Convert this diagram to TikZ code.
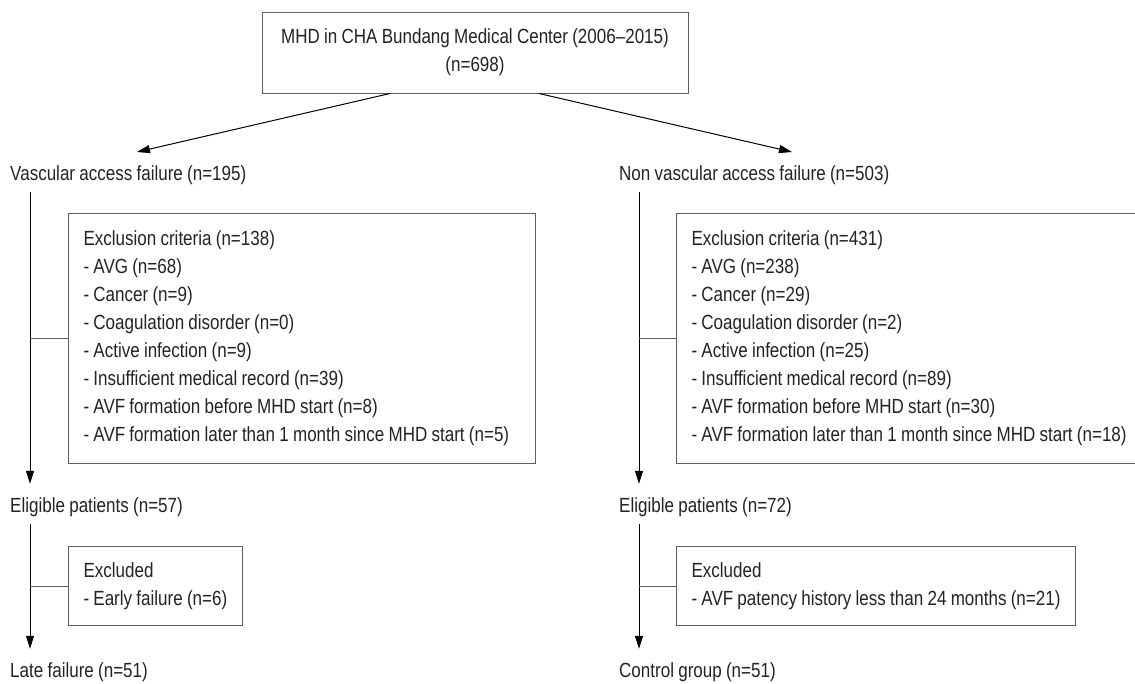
\documentclass[tikz,border=0pt]{standalone}
\usepackage{fontspec}
\setmainfont{Liberation Sans}[FakeStretch=0.83, WordSpace=0.9]
\usepackage{tikz}
\usetikzlibrary{calc, positioning, arrows.meta}
\usepackage{xcolor}
\definecolor{boxLine}{RGB}{95, 95, 95}
\definecolor{txtGray}{RGB}{35, 35, 35}

\begin{document}
\begin{tikzpicture}[x=1pt, y=-1pt, >={Triangle[length=13pt, width=8pt]},
  font=\fontsize{20.5}{28}\selectfont, text=txtGray,
  stage/.style={anchor=west, inner xsep=0pt, inner ysep=8pt,
                text height=14pt, text depth=4pt},
  critbox/.style={draw=boxLine, line width=1pt, anchor=north west,
                  text width=437pt, inner xsep=15pt, inner ysep=0pt,
                  minimum height=250pt, align=flush left},
  exbox/.style={draw=boxLine, line width=1pt, anchor=north west,
                inner xsep=15pt, inner ysep=0pt, minimum height=79pt, align=left},
  flow/.style={->, line width=1pt},
  branch/.style={draw=boxLine, line width=1pt}]
  \useasboundingbox (0,0) rectangle (1135,683);
  \clip (0,0) rectangle (1135,683);

  % Source population
  \node[draw=boxLine, line width=1pt, minimum width=426pt, minimum height=81pt,
        align=center] (mhd) at (475, 52.5)
        {MHD in CHA Bundang Medical Center (2006--2015)\\(n=698)};

  % First split
  \node[stage] (vaf)  at (10, 175)  {Vascular access failure (n=195)};
  \node[stage] (nvaf) at (619, 175) {Non vascular access failure (n=503)};
  \coordinate (vafTip)  at (137, 152);
  \coordinate (nvafTip) at (792, 152);
  \draw[flow] ([xshift=-85pt]mhd.south) -- (vafTip);
  \draw[flow] ([xshift=64pt]mhd.south) -- (nvafTip);

  % Exclusion criteria
  \node[critbox] (critA) at (68, 213)
        {Exclusion criteria (n=138)\\
         - AVG (n=68)\\
         - Cancer (n=9)\\
         - Coagulation disorder (n=0)\\
         - Active infection (n=9)\\
         - Insufficient medical record (n=39)\\
         - AVF formation before MHD start (n=8)\\
         - AVF formation later than 1 month since MHD start (n=5)};
  \node[critbox, text width=455pt] (critB) at (676, 213)
        {Exclusion criteria (n=431)\\
         - AVG (n=238)\\
         - Cancer (n=29)\\
         - Coagulation disorder (n=2)\\
         - Active infection (n=25)\\
         - Insufficient medical record (n=89)\\
         - AVF formation before MHD start (n=30)\\
         - AVF formation later than 1 month since MHD start (n=18)};

  % Eligible patients
  \node[stage] (eligA) at (10, 507)  {Eligible patients (n=57)};
  \node[stage] (eligB) at (619, 507) {Eligible patients (n=72)};

  % Second exclusion
  \node[exbox] (exA) at (68, 546)
        {Excluded\\- Early failure (n=6)};
  \node[exbox] (exB) at (676, 546)
        {Excluded\\- AVF patency history less than 24 months (n=21)};

  % Final groups
  \node[stage] (late) at (10, 672)  {Late failure (n=51)};
  \node[stage] (ctrl) at (619, 672) {Control group (n=51)};

  % Rails
  \coordinate (railA) at (30, 0);
  \coordinate (railB) at (639, 0);
  \draw[flow, shorten >=6pt] (vaf.south -| railA) -- (eligA.north -| railA);
  \draw[flow, shorten >=6pt] (eligA.south -| railA) -- (late.north -| railA);
  \draw[flow, shorten >=6pt] (nvaf.south -| railB) -- (eligB.north -| railB);
  \draw[flow, shorten >=6pt] (eligB.south -| railB) -- (ctrl.north -| railB);
  \draw[branch] (critA.west -| railA) -- (critA.west);
  \draw[branch] (critB.west -| railB) -- (critB.west);
  \draw[branch] (exA.west -| railA) -- (exA.west);
  \draw[branch] (exB.west -| railB) -- (exB.west);
\end{tikzpicture}
\end{document}
